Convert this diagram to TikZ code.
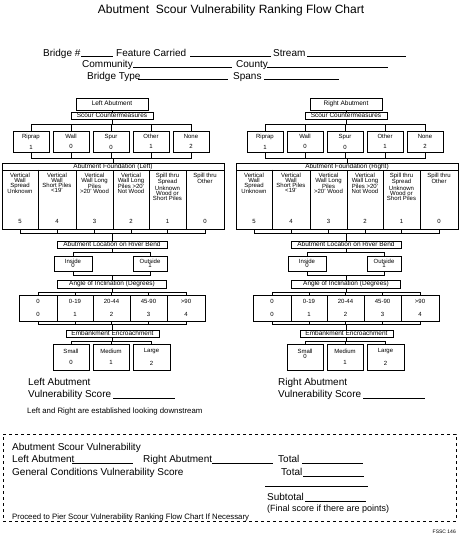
\documentclass[tikz,border=0pt]{standalone}
\usepackage{fontspec}
\setmainfont{Liberation Sans}
\tikzset{
  box/.style={draw, line width=0.8pt, inner sep=0pt, align=center},
  hdr/.style={font=\fontsize{6.5}{7}\selectfont, text height=4.6pt, text depth=1.2pt},
  sm/.style={font=\fontsize{6}{5}\selectfont},
  conn/.style={line width=0.8pt},
  lbl/.style={inner sep=0pt, anchor=base west, font=\fontsize{10}{12}\selectfont},
  blank/.style={line width=0.7pt},
}
\newcommand\abutcol[5]{%
\begin{scope}[xshift=#2pt]
  \node[box,hdr,minimum width=72pt,minimum height=12pt] (#1top) at (112,104) {#3};
  \node[box,hdr,minimum width=82pt,minimum height=7pt] (#1scm) at (112,115.5) {Scour Countermeasures};
  \foreach \n/\cx/\lab/\v in {1/31/Riprap/1,2/71/Wall/0,3/111/Spur/0,4/151/Other/1,5/191/None/2}
    \node[box,sm,minimum width=36pt,minimum height=21pt] (#1cm\n) at (\cx,141.5) {\lab\\[4.5pt]\v};
  \node[box,minimum width=222pt,minimum height=66pt] (#1fnd) at (113,196) {};
  \node[box,hdr,minimum width=222pt,minimum height=7pt] (#1fndh) at (113,166.5) {#4};
  \foreach \n/\cx/\w/\ft/\v in {%
      1/20/36/{Vertical\\Wall\\Spread\\Unknown}/5,
      2/57/38/{Vertical\\Wall\\Short Piles\\<19'}/4,
      3/94.5/37/{Vertical\\Wall Long\\Piles\\>20' Wood}/3,
      4/131/36/{Vertical\\Wall Long\\Piles >20'\\Not Wood}/2,
      5/167.5/37/{Spill thru\\Spread\\Unknown\\Wood or\\Short Piles}/1,
      6/205/38/{Spill thru\\Other}/0}{%
    \node[box,minimum width=\w pt,minimum height=59pt] (#1fc\n) at (\cx,199.5) {};
    \node[sm,inner sep=0pt,align=center,anchor=north] (#1ft\n) at (\cx,172.5) {\ft};
    \node[sm,inner sep=0pt] (#1fv\n) at (\cx,221) {\v};
  }
  \draw[line width=1.8pt] (#1fc1.north east) -- (#1fc1.south east);
  \node[box,hdr,minimum width=110pt,minimum height=7pt] (#1loc) at (112,245) {Abutment Location on River Bend};
  \node[box,sm,minimum width=38pt,minimum height=15pt] (#1in) at (73,263.5) {Inside\\[-0.5pt]0};
  \node[box,sm,minimum width=34pt,minimum height=15pt] (#1out) at (150,263.5) {Outside\\[-0.5pt]1};
  \node[box,hdr,minimum width=109pt,minimum height=8pt] (#1ang) at (112,284) {Angle of Inclination (Degrees)};
  \foreach \n/\cx/\w/\lab/\v in {1/38/38/0/0,2/75/36/0-19/1,3/111.5/37/20-44/2,4/148.5/37/45-90/3,5/186/38/>90/4}
    \node[box,sm,minimum width=\w pt,minimum height=26pt] (#1ab\n) at (\cx,308) {\lab\\[8pt]\v};
  \node[box,hdr,minimum width=93pt,minimum height=7pt] (#1emb) at (112.5,333.5) {Embankment Encroachment};
  \node[box,sm,minimum width=36pt,minimum height=26pt] (#1em1) at (71,357) {#5};
  \node[box,sm,minimum width=36pt,minimum height=26pt] (#1em2) at (111,357) {Medium\\[6pt]1};
  \node[box,sm,minimum width=37pt,minimum height=26pt] (#1em3) at (151.5,357) {Large\\[6pt]2};
  % connectors
  \draw[conn] (#1top) -- (#1scm);
  \foreach \n in {1,...,5} {
    \draw[conn] (#1scm.south) -- ++(0,4.5) -| (#1cm\n.north);
    \draw[conn] (#1cm\n.south) -- ++(0,6) -| (#1fnd.north);
  }
  \foreach \n in {1,...,6}
    \draw[conn] (#1fc\n.south) -- ++(0,4) -| (#1loc.north);
  \foreach \b in {in,out} {
    \draw[conn] (#1loc.south) -- ++(0,3.5) -| (#1\b.north);
    \draw[conn] (#1\b.south) -- ++(0,4) -| (#1ang.north);
  }
  \foreach \n in {1,...,5} {
    \draw[conn] (#1ang.south) -- ++(0,4) -| (#1ab\n.north);
    \draw[conn] (#1ab\n.south) -- ++(0,3) -| (#1emb.north);
  }
  \foreach \n in {1,2,3}
    \draw[conn] (#1emb.south) -- ++(0,3.5) -| (#1em\n.north);
\end{scope}}
\begin{document}
\begin{tikzpicture}[x=1pt,y=-1pt]
\useasboundingbox (0,0) rectangle (460,536);
\fill[white] (0,0) rectangle (460,536);
% title
\node[inner sep=0pt,font=\fontsize{12}{14}\selectfont] (title) at (231,10) {Abutment\ \ Scour Vulnerability Ranking Flow Chart};
% header form
\node[lbl] (hb) at (43,56) {Bridge \#};
\draw[blank] (81,56) -- (113,56);
\node[lbl] (hf) at (116,56) {Feature Carried};
\draw[blank] (190,56) -- (271,56);
\node[lbl] (hs) at (273,56) {Stream};
\draw[blank] (307,56) -- (406,56);
\node[lbl] (hc) at (82,67) {Community};
\draw[blank] (133,67) -- (232,67);
\node[lbl] (hco) at (236,67) {County};
\draw[blank] (267,67) -- (388,67);
\node[lbl] (ht) at (87,79) {Bridge Type};
\draw[blank] (138,79) -- (228,79);
\node[lbl] (hsp) at (233,79) {Spans};
\draw[blank] (264,79) -- (339,79);
% columns
\abutcol{L}{0}{Left Abutment}{Abutment Foundation (Left)}{Small\\[6pt]0}
\abutcol{R}{234}{Right Abutment}{Abutment Foundation (Right)}{Small\\[-0.5pt]0\\[1.5pt]\phantom{0}}
% scores
\node[lbl] (ls1) at (28,385.5) {Left Abutment};
\node[lbl] (ls2) at (28,397.5) {Vulnerability Score};
\draw[blank] (113,398) -- (175,398);
\node[lbl] (rs1) at (278,385.5) {Right Abutment};
\node[lbl] (rs2) at (278,397.5) {Vulnerability Score};
\draw[blank] (363,398) -- (425,398);
\node[lbl,font=\fontsize{7.8}{9}\selectfont] (note) at (27,413) {Left and Right are established looking downstream};
% summary box
\node[draw,dash pattern=on 3pt off 3pt,line width=0.8pt,minimum width=453pt,minimum height=87pt,inner sep=0pt] (sum) at (229.5,477.5) {};
\node[lbl] (s1) at (12,450.6) {Abutment Scour Vulnerability};
\node[lbl] (s2) at (12,462.6) {Left Abutment};
\draw[blank] (72,463) -- (133,463);
\node[lbl] (s3) at (143,462.6) {Right Abutment};
\draw[blank] (212,463) -- (273,463);
\node[lbl] (s4) at (278,462.6) {Total};
\draw[blank] (302,463) -- (363,463);
\node[lbl] (s5) at (12,475.6) {General Conditions Vulnerability Score};
\node[lbl] (s6) at (281,475.6) {Total};
\draw[blank] (303,476) -- (364,476);
\draw[blank] (265,486) -- (368,486);
\node[lbl] (s7) at (267,500.6) {Subtotal};
\draw[blank] (305,501) -- (366,501);
\node[lbl,font=\fontsize{9}{11}\selectfont] (s8) at (267,511) {(Final score if there are points)};
\node[lbl,font=\fontsize{7.8}{9}\selectfont] (s9) at (12,519) {Proceed to Pier Scour Vulnerability Ranking Flow Chart If Necessary};
\node[inner sep=0pt,anchor=base east,font=\fontsize{5}{6}\selectfont] (ref) at (456,533) {FSSC 146};
\end{tikzpicture}
\end{document}
